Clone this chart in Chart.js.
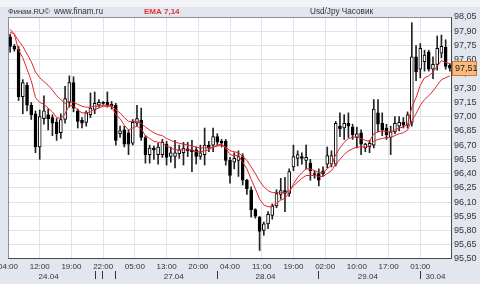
<!DOCTYPE html>
<html><head><meta charset="utf-8">
<script src="https://cdn.jsdelivr.net/npm/chart.js@4/dist/chart.umd.min.js"></script>
<style>
html,body{margin:0;padding:0;background:#e2e7ef;}
canvas{display:block;}
</style></head><body>
<canvas id="c" width="480" height="284"></canvas>
<script>
// ---- data ----
const timeLabels = ['04:00','12:00','19:00','22:00','05:00','13:00','20:00','04:00','11:00','19:00','02:00','10:00','17:00','01:00',''];
const timeTickPos = [0,7.5,15,22.5,30,37.5,45,52.5,60,67.5,75,82.5,90,97.5,105];
const dateLabels = ['24.04','27.04','28.04','29.04','30.04'];
const datePositions = [9.6,39.2,60.9,85.1,101.1];
const daySeparators = [20.5,22.3,25.3,49.4,73.4,97.5];
const yTicks = [95.50,95.65,95.80,95.95,96.10,96.25,96.40,96.55,96.70,96.85,97.00,97.15,97.30,97.45,97.60,97.75,97.90,98.05];

const open = [97.84,97.74,97.71,97.21,97.33,97.12,97.03,96.68,96.98,97.02,
96.99,96.94,96.83,96.97,97.15,97.36,97.06,96.96,96.94,97.02,
97.07,97.12,97.15,97.15,97.13,97.12,96.82,96.86,96.83,96.72,
96.93,96.96,96.78,96.60,96.67,96.60,96.60,96.71,96.58,96.58,
96.61,96.62,96.66,96.65,96.65,96.58,96.60,96.70,96.70,96.79,
96.74,96.74,96.54,96.52,96.54,96.58,96.33,96.23,96.02,95.94,
95.80,95.87,95.96,96.06,96.18,96.22,96.19,96.47,96.56,96.58,
96.54,96.51,96.40,96.40,96.43,96.50,96.50,96.50,96.90,96.88,
96.93,96.89,96.78,96.83,96.67,96.68,96.70,97.04,96.93,96.88,
96.78,96.84,96.90,96.94,96.91,96.94,97.63,97.50,97.58,97.68,
97.50,97.55,97.67,97.73,97.54];
const close = [97.74,97.71,97.21,97.36,97.12,97.02,96.68,97.00,97.06,96.98,
96.93,96.82,96.97,97.19,97.36,97.09,96.95,96.93,97.04,97.09,
97.14,97.15,97.14,97.12,97.11,96.75,96.85,96.71,96.71,96.94,
96.98,96.78,96.60,96.67,96.65,96.68,96.73,96.57,96.62,96.62,
96.65,96.67,96.64,96.63,96.58,96.62,96.70,96.67,96.79,96.73,
96.72,96.54,96.38,96.56,96.58,96.33,96.24,96.02,95.95,95.79,
95.87,95.97,96.06,96.19,96.22,96.19,96.42,96.58,96.60,96.56,
96.57,96.43,96.39,96.33,96.40,96.59,96.59,96.93,96.87,96.93,
96.90,96.81,96.82,96.71,96.71,96.72,97.08,96.92,96.86,96.81,
96.84,96.93,96.94,96.91,97.02,97.63,97.47,97.72,97.65,97.50,
97.55,97.72,97.74,97.53,97.51];
const high = [97.87,97.76,97.74,97.39,97.36,97.15,97.06,97.07,97.22,97.08,
97.02,96.98,97.03,97.32,97.43,97.42,97.08,96.99,97.06,97.25,
97.26,97.18,97.16,97.26,97.16,97.14,96.90,96.90,96.86,96.97,
97.12,97.09,96.80,96.70,96.69,96.72,96.76,96.74,96.68,96.75,
96.70,96.73,96.73,96.75,96.68,96.70,96.88,96.74,96.88,96.82,
96.76,96.76,96.57,96.62,96.64,96.61,96.34,96.26,96.03,95.95,
95.89,96.00,96.08,96.23,96.35,96.36,96.45,96.70,96.64,96.62,
96.70,96.55,96.43,96.45,96.47,96.68,96.64,96.95,97.04,97.02,
97.04,96.92,96.89,96.86,96.72,96.75,97.18,97.18,97.04,96.92,
96.90,97.00,97.00,96.99,97.05,97.99,97.75,97.77,97.70,97.70,
97.63,97.85,97.86,97.81,97.56];
const low = [97.68,97.69,97.17,97.03,97.06,96.97,96.62,96.55,96.92,96.86,
96.80,96.75,96.77,96.93,97.10,97.05,96.88,96.88,96.90,96.99,
97.03,97.10,97.13,97.10,97.08,96.70,96.78,96.68,96.60,96.70,
96.90,96.75,96.51,96.51,96.55,96.50,96.57,96.49,96.52,96.46,
96.56,96.49,96.58,96.42,96.50,96.55,96.49,96.63,96.63,96.70,
96.68,96.49,96.30,96.45,96.37,96.28,96.18,95.94,95.93,95.59,
95.75,95.82,95.92,96.04,96.13,96.00,96.16,96.43,96.48,96.50,
96.45,96.33,96.35,96.27,96.37,96.46,96.47,96.48,96.79,96.76,
96.78,96.76,96.67,96.60,96.63,96.62,96.67,96.84,96.80,96.76,
96.60,96.82,96.85,96.88,96.88,96.90,97.38,97.41,97.48,97.48,
97.40,97.49,97.62,97.50,97.48];
const ema7 = [97.92,97.87,97.70,97.62,97.50,97.38,97.20,97.15,97.13,97.09,
97.05,96.99,96.98,97.03,97.12,97.11,97.07,97.04,97.04,97.05,
97.08,97.09,97.11,97.11,97.11,97.02,96.98,96.91,96.86,96.88,
96.90,96.87,96.80,96.77,96.74,96.73,96.73,96.69,96.67,96.65,
96.65,96.65,96.65,96.65,96.63,96.63,96.64,96.65,96.68,96.70,
96.71,96.67,96.60,96.59,96.59,96.52,96.45,96.34,96.24,96.13,
96.07,96.05,96.05,96.09,96.12,96.14,96.20,96.29,96.36,96.41,
96.45,96.45,96.43,96.41,96.41,96.45,96.49,96.60,96.67,96.73,
96.77,96.78,96.79,96.77,96.75,96.74,96.82,96.84,96.85,96.84,
96.84,96.86,96.88,96.89,96.92,97.10,97.20,97.33,97.41,97.43,
97.47,97.53,97.59,97.57,97.56];
const ema14 = [97.89,97.87,97.80,97.74,97.66,97.58,97.47,97.41,97.37,97.33,
97.28,97.22,97.18,97.14,97.16,97.15,97.13,97.11,97.10,97.10,
97.11,97.11,97.12,97.12,97.12,97.07,97.04,96.99,96.95,96.95,
96.95,96.93,96.89,96.86,96.83,96.81,96.80,96.77,96.75,96.73,
96.72,96.71,96.70,96.69,96.68,96.67,96.67,96.67,96.68,96.69,
96.70,96.68,96.64,96.63,96.62,96.58,96.54,96.47,96.40,96.32,
96.26,96.22,96.20,96.20,96.20,96.20,96.22,96.27,96.31,96.35,
96.38,96.38,96.38,96.37,96.37,96.40,96.43,96.50,96.55,96.60,
96.64,96.66,96.68,96.68,96.68,96.69,96.74,96.76,96.77,96.78,
96.78,96.80,96.82,96.83,96.86,96.96,97.03,97.12,97.18,97.22,
97.27,97.33,97.39,97.41,97.43];

// ---- build ----
const slot = i => i + 0.5;
const bodies = open.map((o, i) => ({x: slot(i), y: [o, close[i]]}));
const wicks = low.map((l, i) => ({x: slot(i), y: [l, high[i]]}));
const bodyFill = open.map((o, i) => close[i] >= o ? '#ffffff' : '#000000');
const lastPrice = close[close.length - 1];
const fmt = v => v.toFixed(2).replace('.', ',');
const FONT = '"Liberation Sans Narrow","Liberation Sans",Arial,sans-serif';

const decor = {
  id: 'decor',
  beforeDraw(chart) {
    const c = chart.ctx, a = chart.chartArea;
    c.save();
    c.fillStyle = '#e2e7ef'; c.fillRect(0, 0, 480, 284);
    c.fillStyle = '#f3f4f7'; c.fillRect(0, 0, 480, 7);
    c.fillStyle = '#ffffff'; c.fillRect(a.left, a.top, a.right - a.left, a.bottom - a.top);
    c.restore();
  },
  afterDraw(chart) {
    const c = chart.ctx, a = chart.chartArea, xs = chart.scales.x, ys = chart.scales.y;
    c.save();
    c.strokeStyle = '#8a8f98'; c.lineWidth = 1;
    c.strokeRect(a.left + 0.5, a.top + 0.5, a.right - a.left - 1, a.bottom - a.top - 1);
    c.strokeStyle = '#4a4a4a';
    c.beginPath();
    c.moveTo(a.left + 0.5, a.bottom - 0.5); c.lineTo(a.right - 0.5, a.bottom - 0.5); c.lineTo(a.right - 0.5, a.top);
    c.stroke();
    // header
    c.textBaseline = 'alphabetic'; c.textAlign = 'left';
    c.fillStyle = '#333333';
    c.font = '7.5px "Liberation Sans",Arial,sans-serif';
    c.fillText('Финам.RU©', 8, 14);
    c.font = '8.2px "Liberation Sans",Arial,sans-serif';
    c.fillText('www.finam.ru', 54, 14);
    c.fillText('Usd/Jpy Часовик', 310, 14);
    c.fillStyle = '#e8303a';
    c.font = 'bold 8px "Liberation Sans",Arial,sans-serif';
    c.fillText('EMA 7,14', 144, 14);
    // date row
    c.font = '8px ' + FONT; c.fillStyle = '#333333'; c.textAlign = 'center'; c.textBaseline = 'middle';
    dateLabels.forEach((t, k) => c.fillText(t, xs.getPixelForValue(datePositions[k]), 276.5));
    c.strokeStyle = '#333333';
    daySeparators.forEach(p => {
      const x = Math.round(xs.getPixelForValue(p)) + 0.5;
      c.beginPath(); c.moveTo(x, 271); c.lineTo(x, 279); c.stroke();
    });
    // last price box
    const py = Math.round(ys.getPixelForValue(lastPrice));
    c.fillStyle = '#fbb97c';
    c.fillRect(a.right, py - 7, 25, 15);
    c.strokeStyle = '#c87a3a';
    c.strokeRect(a.right + 0.5, py - 6.5, 24, 14);
    c.fillStyle = '#222222'; c.textAlign = 'left'; c.textBaseline = 'middle';
    c.font = '9px ' + FONT;
    c.fillText(fmt(lastPrice), a.right + 3, py + 0.5);
    c.restore();
  }
};

new Chart(document.getElementById('c'), {
  type: 'bar',
  data: {
    datasets: [
      {type: 'line', data: ema7.map((v, i) => ({x: slot(i), y: v})), borderColor: '#e8262e', borderWidth: 1, pointRadius: 0, tension: 0, order: 0},
      {type: 'line', data: ema14.map((v, i) => ({x: slot(i), y: v})), borderColor: '#e8262e', borderWidth: 1, pointRadius: 0, tension: 0, order: 0},
      {type: 'bar', data: bodies, backgroundColor: bodyFill, borderColor: '#000000', borderWidth: 1, borderSkipped: false,
       grouped: false, categoryPercentage: 1, barPercentage: 1, maxBarThickness: 3, order: 1},
      {type: 'bar', data: wicks, backgroundColor: '#222222', borderWidth: 0,
       grouped: false, categoryPercentage: 1, barPercentage: 1, maxBarThickness: 1, order: 2}
    ]
  },
  options: {
    responsive: false, animation: false, events: [],
    plugins: {legend: {display: false}, tooltip: {enabled: false}},
    layout: {padding: {left: 8, top: 17, right: 0, bottom: 0}},
    scales: {
      x: {
        type: 'linear', min: 0, max: 105, offset: false,
        grid: {color: '#dfe4ec', drawTicks: false, offset: false},
        border: {display: false},
        afterBuildTicks: s => { s.ticks = timeTickPos.map(v => ({value: v})); },
        afterFit: s => { s.height = 25; s.paddingLeft = 0; s.paddingRight = 0; },
        ticks: {autoSkip: false, maxRotation: 0, padding: 3, color: '#333333', font: {family: FONT, size: 8},
                callback: (v, i) => timeLabels[i]}
      },
      y: {
        position: 'right', min: 95.5, max: 98.05,
        grid: {color: '#dfe4ec', drawTicks: false},
        border: {display: false},
        afterBuildTicks: s => { s.ticks = yTicks.map(v => ({value: v})); },
        afterFit: s => { s.width = 28; s.paddingTop = 0; s.paddingBottom = 0; },
        ticks: {padding: 2, color: '#333333', font: {family: FONT, size: 9}, callback: v => fmt(v)}
      }
    }
  },
  plugins: [decor]
});
</script>
</body></html>
